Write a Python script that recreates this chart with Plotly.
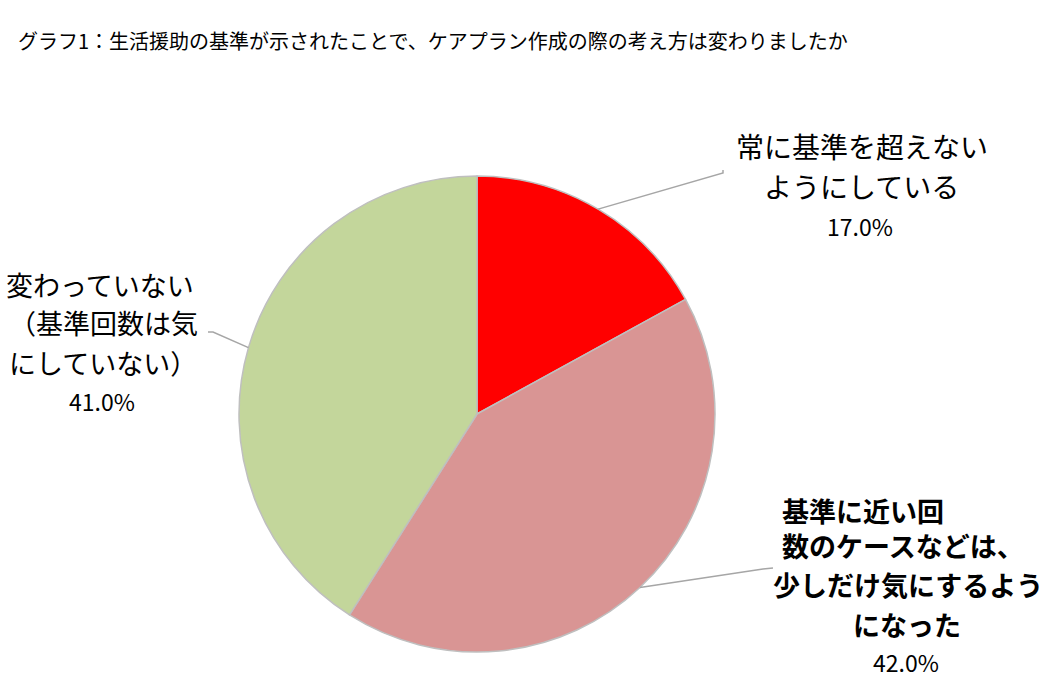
import math
import plotly.graph_objects as go

# Data
categories = ["常に基準を超えないようにしている",
              "基準に近い回数のケースなどは、少しだけ気にするようになった",
              "変わっていない（基準回数は気にしていない）"]
values = [17.0, 42.0, 41.0]
colors = ["#FF0000", "#D99594", "#C3D69B"]
title_text = "グラフ1：生活援助の基準が示されたことで、ケアプラン作成の際の考え方は変わりましたか"

W, H = 1058, 695
CX, CY, R = 477, 414, 238
FONT = "Noto Sans CJK JP"

def px(x):
    return x / W

def py(y):
    return 1 - y / H

fig = go.Figure(go.Pie(
    labels=categories, values=values, sort=False, direction="clockwise",
    rotation=0, textinfo="none", hoverinfo="label+percent",
    marker=dict(colors=colors, line=dict(color="#BFBFBF", width=1.5)),
    domain=dict(x=[px(CX - R), px(CX + R)], y=[py(CY + R), py(CY - R)]),
    showlegend=False,
))

# leader lines: start at slice mid-angle on the pie edge
total = sum(values)
cum = 0
mids = []
for v in values:
    mids.append((cum + v / 2) / total * 2 * math.pi)
    cum += v
elbows = [[(723, 173), (723, 170)], [(763, 569), (773, 568)], [(213, 332), (208, 332)]]
shapes = []
for a, pts in zip(mids, elbows):
    sx = CX + R * math.sin(a)
    sy = CY - R * math.cos(a)
    path = f"M {px(sx)} {py(sy)}"
    for (x, y) in pts:
        path += f" L {px(x)} {py(y)}"
    shapes.append(dict(type="path", xref="paper", yref="paper", path=path,
                       line=dict(color="#A6A6A6", width=1.5)))

annotations = [dict(text=title_text, x=px(16), y=py(41), xref="paper", yref="paper",
                    xanchor="left", yanchor="middle", showarrow=False,
                    font=dict(family=FONT, size=20, color="#000"))]

def lab(t, x, y, size=27, bold=False, anchor="center"):
    txt = f"<b>{t}</b>" if bold else t
    annotations.append(dict(text=txt, x=px(x), y=py(y), xref="paper", yref="paper",
                            xanchor=anchor, yanchor="middle", showarrow=False,
                            align=anchor if anchor != "center" else "center",
                            font=dict(family=FONT, size=size, color="#000")))

pcts = [f"{v:.1f}%" for v in values]
# red
lab("常に基準を超えない", 862, 146, size=28)
lab("ようにしている", 861, 186, size=28)
lab(pcts[0], 860, 226, size=23)
# pink
lab("<b>基準に近い回</b><br><b>数のケースなどは、</b>", 780, 528, anchor="left")
lab("少しだけ気にするよう", 908, 584, bold=True)
lab("になった", 907, 624, bold=True)
lab(pcts[1], 906, 662, size=23)
# green
lab("変わっていない", 100, 284)
lab("（基準回数は気", 103, 322)
lab("にしていない）", 103, 362)
lab(pcts[2], 102, 401, size=23)

fig.update_layout(width=W, height=H, margin=dict(l=0, r=0, t=0, b=0),
                  paper_bgcolor="white", plot_bgcolor="white",
                  shapes=shapes, annotations=annotations)
fig.write_html("out.html")
